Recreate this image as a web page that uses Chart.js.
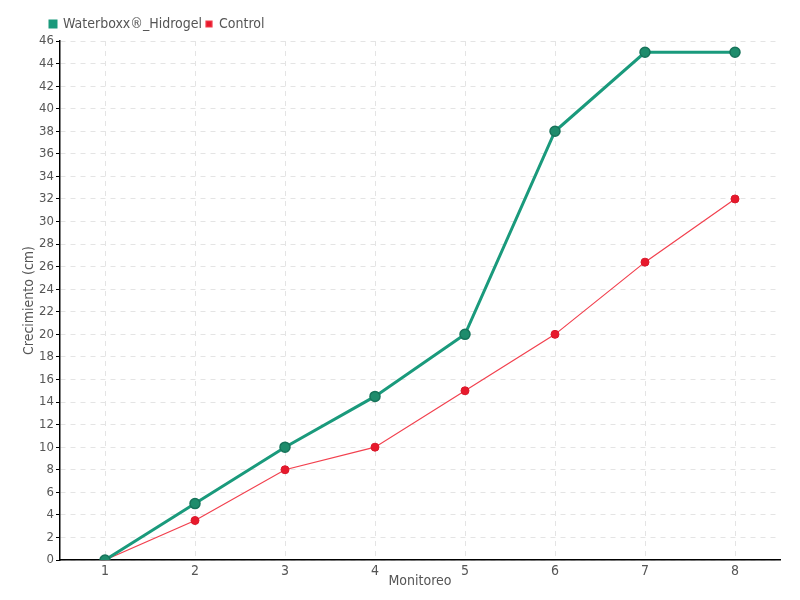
<!DOCTYPE html>
<html><head><meta charset="utf-8">
<script src="https://cdn.jsdelivr.net/npm/chart.js@4"></script>
<style>html,body{margin:0;padding:0;background:#fff}#wrap{width:800px;height:600px}</style>
</head><body><div id="wrap"><canvas id="c" width="800" height="600"></canvas></div>
<script>
const categories = ['1','2','3','4','5','6','7','8'];
const waterboxx = [0, 5, 10, 14.5, 20, 38, 45, 45];
const control = [0, 3.5, 8, 10, 15, 20, 26.4, 32];
const seriesNames = ['Waterboxx®_Hidrogel', 'Control'];
const yMin = 0, yMax = 46, yStep = 2;

const FONT = "'DejaVu Sans Condensed', 'Roboto Condensed', Roboto, sans-serif";
Chart.defaults.font.family = FONT;
Chart.defaults.color = '#555';

new Chart(document.getElementById('c'), {
  type: 'line',
  data: {
    labels: categories,
    datasets: [
      {label: seriesNames[0], data: waterboxx, borderColor: '#1a9a7c', backgroundColor: '#1a9a7c',
       pointBackgroundColor: '#1e8c6c', pointBorderColor: '#17735a', pointBorderWidth: 1.5,
       borderWidth: 3, pointRadius: 5, tension: 0},
      {label: seriesNames[1], data: control, borderColor: '#f2404e', backgroundColor: '#e8192c',
       pointBackgroundColor: '#e8192c', pointBorderColor: '#d8192c', pointBorderWidth: 1,
       borderWidth: 1.2, pointRadius: 4, tension: 0}
    ]
  },
  options: {
    responsive: false, animation: false,
    layout: {padding: {left: 0, right: 20, top: 13, bottom: 0}},
    plugins: {
      legend: {align: 'start', labels: {boxWidth: 6, boxHeight: 6, padding: 4, font: {size: 14}, color: '#555'}},
      tooltip: {enabled: false}
    },
    scales: {
      x: {offset: true, grid: {offset: false, color: '#e4e4e4', tickColor: 'rgba(0,0,0,0)', tickLength: 3}, border: {color: '#000', width: 1.5, dash: [5,5]},
          title: {display: true, text: 'Monitoreo', font: {size: 14}, color: '#555', padding: {top: 0, bottom: 10}},
          ticks: {font: {size: 14}, color: '#555', padding: 0},
          afterFit: s => { s.height = 40; }},
      y: {min: yMin, max: yMax, grid: {color: '#e4e4e4', tickColor: '#000', tickLength: 4}, border: {color: '#000', width: 1.5, dash: [5,5]},
          title: {display: true, text: 'Crecimiento (cm)', font: {size: 14}, color: '#555', padding: {top: 21, bottom: 0}},
          ticks: {stepSize: yStep, font: {size: 13}, color: '#555', padding: 2},
          afterFit: s => { s.width = 60; }}
    }
  },
  plugins: [{
    id: 'shiftLegend',
    afterLayout(chart) { if (chart.legend) { chart.legend.left = 46; } }
  }]
});
</script></body></html>
